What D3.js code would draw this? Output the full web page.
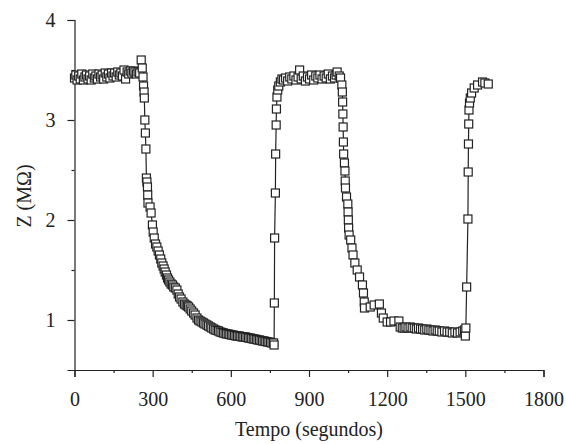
<!DOCTYPE html>
<html>
<head>
<meta charset="utf-8">
<script src="https://cdn.jsdelivr.net/npm/d3@7"></script>
<style>
  body { margin: 0; background: #fff; }
  svg { display: block; }
  .axis text { font-family: "Liberation Serif", "DejaVu Serif", serif; font-size: 20px; fill: #222; }
  .axis path, .axis line { stroke: #222; stroke-width: 1.2; }
</style>
</head>
<body>
<svg></svg>
<script>
const width = 566;
const height = 444;

// tempo (s) and Z (MOhm)
const tempo = [
  0, 5, 10, 16, 22, 28, 34, 40, 46, 52, 58, 64, 70, 76, 82, 88, 94, 100, 106, 112,
  118, 124, 130, 136, 142, 148, 154, 160, 166, 172, 178, 184, 190, 196, 202, 208, 214, 220, 226, 232,
  238, 244, 250, 256, 260, 263, 265, 267, 268, 270, 272, 274, 276, 278, 280, 281, 282, 290, 294, 299,
  302, 306, 311, 316, 321, 326, 331, 335, 340, 344, 348, 353, 357, 361, 366, 371, 376, 381, 387, 393,
  398, 403, 409, 416, 422, 428, 433, 438, 444, 450, 457, 463, 470, 476, 482, 489, 495, 501, 508, 514,
  521, 527, 534, 540, 547, 553, 559, 566, 572, 578, 584, 590, 596, 602, 608, 614, 620, 626, 632, 638,
  644, 650, 656, 662, 668, 674, 680, 686, 692, 698, 704, 710, 716, 722, 728, 734, 740, 746, 752, 758,
  764, 766, 767, 768, 771, 772, 774, 775, 777, 780, 784, 790, 796, 802, 810, 818, 826, 834, 842, 850,
  858, 864, 870, 878, 886, 894, 902, 910, 918, 926, 934, 942, 950, 958, 966, 974, 982, 990, 998, 1004,
  1008, 1016, 1021, 1026, 1028, 1029, 1030, 1031, 1032, 1033, 1036, 1038, 1039, 1040, 1044, 1049, 1050, 1051, 1052, 1054,
  1060, 1065, 1069, 1076, 1085, 1094, 1105, 1109, 1112, 1113, 1135, 1150, 1170, 1178, 1185, 1200, 1213, 1226, 1245, 1250,
  1258, 1265, 1272, 1280, 1288, 1296, 1304, 1312, 1320, 1328, 1336, 1344, 1352, 1360, 1368, 1376, 1384, 1392, 1400, 1410,
  1420, 1430, 1440, 1450, 1460, 1470, 1480, 1490, 1497, 1500, 1502, 1505, 1510, 1511, 1512, 1513, 1514, 1516, 1519, 1524,
  1534, 1547, 1566, 1575, 1588
];
const z = [
  3.42, 3.45, 3.40, 3.44, 3.41, 3.46, 3.40, 3.43, 3.45, 3.41, 3.44, 3.40, 3.46, 3.42, 3.44, 3.41, 3.46, 3.43, 3.45, 3.41,
  3.47, 3.43, 3.46, 3.42, 3.47, 3.44, 3.47, 3.43, 3.48, 3.45, 3.47, 3.44, 3.50, 3.41, 3.48, 3.46, 3.49, 3.47, 3.49, 3.48,
  3.46, 3.48, 3.47, 3.60, 3.52, 3.43, 3.34, 3.28, 3.22, 3.00, 2.87, 2.71, 2.42, 2.38, 2.33, 2.25, 2.17, 2.13, 2.07, 1.95,
  1.88, 1.82, 1.76, 1.73, 1.69, 1.65, 1.61, 1.57, 1.54, 1.51, 1.48, 1.45, 1.42, 1.40, 1.38, 1.36, 1.35, 1.33, 1.32, 1.30,
  1.26, 1.23, 1.21, 1.18, 1.16, 1.15, 1.14, 1.13, 1.11, 1.09, 1.07, 1.05, 1.02, 1.00, 0.99, 0.98, 0.97, 0.96, 0.95, 0.94,
  0.93, 0.92, 0.91, 0.90, 0.895, 0.89, 0.88, 0.875, 0.87, 0.865, 0.86, 0.86, 0.855, 0.85, 0.85, 0.845, 0.84, 0.84, 0.84, 0.835,
  0.83, 0.83, 0.83, 0.825, 0.82, 0.82, 0.815, 0.81, 0.81, 0.805, 0.80, 0.80, 0.795, 0.79, 0.79, 0.785, 0.78, 0.78, 0.775, 0.77,
  0.77, 0.75, 1.17, 1.82, 2.27, 2.66, 2.95, 3.11, 3.23, 3.30, 3.34, 3.38, 3.41, 3.40, 3.42, 3.39, 3.43, 3.41, 3.44, 3.40,
  3.43, 3.50, 3.41, 3.44, 3.39, 3.43, 3.41, 3.45, 3.40, 3.44, 3.42, 3.45, 3.41, 3.44, 3.42, 3.46, 3.41, 3.44, 3.42, 3.45,
  3.48, 3.44, 3.42, 3.35, 3.28, 3.18, 3.06, 2.93, 2.78, 2.66, 2.57, 2.49, 2.39, 2.32, 2.23, 2.16, 2.08, 2.00, 1.92, 1.85,
  1.80, 1.72, 1.65, 1.57, 1.50, 1.43, 1.35, 1.27, 1.18, 1.12, 1.13, 1.15, 1.16, 1.07, 1.02, 0.98, 0.98, 0.99, 0.99, 0.93,
  0.92, 0.92, 0.93, 0.92, 0.93, 0.92, 0.92, 0.91, 0.92, 0.91, 0.91, 0.90, 0.91, 0.90, 0.90, 0.89, 0.90, 0.89, 0.89, 0.88,
  0.89, 0.88, 0.88, 0.87, 0.88, 0.87, 0.88, 0.89, 0.90, 0.84, 0.92, 1.33, 2.01, 2.48, 2.76, 2.96, 3.10, 3.17, 3.22, 3.27,
  3.32, 3.35, 3.38, 3.37, 3.36
];

const xTicks = [0, 300, 600, 900, 1200, 1500, 1800];
const yTicks = [1, 2, 3, 4];

const data = tempo.map((t, i) => ({ t: t, z: z[i] }));

const svg = d3.select('svg').attr('width', width).attr('height', height);

const x = d3.scaleLinear().domain([0, 1800]).range([74.5, 543.5]);
const y = d3.scaleLinear().domain([0.5, 4]).range([370, 20]);

// minor ticks
svg.append('g').attr('class', 'axis')
  .attr('transform', 'translate(0,370)')
  .call(d3.axisBottom(x).tickValues(d3.range(150, 1800, 300)).tickSize(3).tickFormat(''))
  .call(g => g.select('.domain').remove());
svg.append('g').attr('class', 'axis')
  .attr('transform', 'translate(74.5,0)')
  .call(d3.axisLeft(y).tickValues([1.5, 2.5, 3.5]).tickSize(3).tickFormat(''))
  .call(g => g.select('.domain').remove());

svg.append('g').attr('class', 'axis')
  .attr('transform', 'translate(0,370)')
  .call(d3.axisBottom(x).tickValues(xTicks).tickFormat(d3.format('d'))
    .tickSizeOuter(0).tickSize(7).tickPadding(15));

svg.append('g').attr('class', 'axis')
  .attr('transform', 'translate(74.5,0)')
  .call(d3.axisLeft(y).tickValues(yTicks).tickFormat(d3.format('d'))
    .tickSizeOuter(0).tickSize(7).tickPadding(12));

svg.append('text')
  .attr('x', 309).attr('y', 436)
  .attr('text-anchor', 'middle')
  .style('font-family', '"Liberation Serif", serif').style('font-size', '20px').style('fill', '#222')
  .text('Tempo (segundos)');

svg.append('text')
  .attr('transform', 'translate(31,196) rotate(-90)')
  .attr('text-anchor', 'middle')
  .style('font-family', '"Liberation Serif", serif').style('font-size', '20px').style('fill', '#222')
  .text('Z (MΩ)');

const line = d3.line().x(d => x(d.t)).y(d => y(d.z));

svg.append('path').datum(data)
  .attr('d', line)
  .attr('fill', 'none')
  .attr('stroke', '#222')
  .attr('stroke-width', 1.2);

const s = 8;
svg.append('g').selectAll('rect').data(data)
  .join('rect')
  .attr('x', d => x(d.t) - s / 2)
  .attr('y', d => y(d.z) - s / 2)
  .attr('width', s)
  .attr('height', s)
  .attr('fill', '#fff')
  .attr('stroke', '#222')
  .attr('stroke-width', 1.2);
</script>
</body>
</html>
